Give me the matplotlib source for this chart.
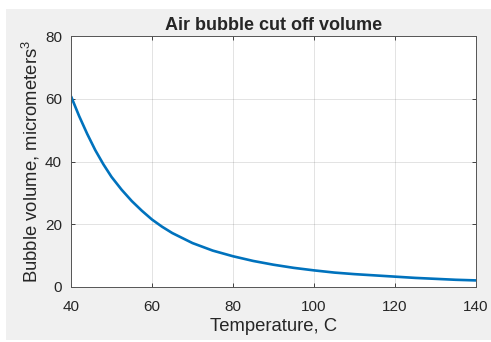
import matplotlib
matplotlib.use("Agg")
import matplotlib.pyplot as plt
from matplotlib.patches import Rectangle

# values
temperature = [40, 42, 44, 46, 48, 50, 52.5, 55, 57.5, 60, 62.5, 65, 70, 75, 80, 85, 90,
               95, 100, 105, 110, 115, 120, 125, 130, 135, 140]
volume = [60.8, 54.5, 48.8, 43.6, 39.1, 35.1, 31.0, 27.4, 24.3, 21.5, 19.2, 17.2, 14.0,
          11.6, 9.8, 8.3, 7.1, 6.1, 5.3, 4.6, 4.1, 3.7, 3.3, 2.9, 2.6, 2.3, 2.1]

x_ticks = [40, 60, 80, 100, 120, 140]
y_ticks = [0, 20, 40, 60, 80]

plt.rcParams.update({
    "font.family": ["Liberation Sans", "DejaVu Sans"],
    "mathtext.fontset": "custom",
    "mathtext.rm": "Liberation Sans",
    "mathtext.it": "Liberation Sans",
    "text.color": "#262626",
    "axes.labelcolor": "#262626",
    "xtick.color": "#262626",
    "ytick.color": "#262626",
})

fig = plt.figure(figsize=(4.91, 3.42), dpi=100, facecolor="white")
# grey figure panel (MATLAB window background)
fig.patches.append(Rectangle((6 / 491, 2 / 342), 1, 1 - 11 / 342, transform=fig.transFigure,
                             facecolor="#f0f0f0", edgecolor="none", zorder=-10))

ax = fig.add_axes([71 / 491, 1 - 287 / 342, 405 / 491, 251 / 342])
ax.plot(temperature, volume, color="#0072BD", linewidth=1.9, solid_capstyle="butt")

ax.set_xlim(40, 140)
ax.set_ylim(0, 80)
ax.set_xticks(x_ticks)
ax.set_yticks(y_ticks)
ax.tick_params(direction="in", length=3, width=0.6, labelsize=11,
               top=True, right=True)
ax.tick_params(axis="x", pad=9.5)
ax.tick_params(axis="y", pad=6.5)
ax.grid(True, color="#262626", alpha=0.15, linewidth=0.6)
for s in ax.spines.values():
    s.set_color("#555555")
    s.set_linewidth(0.7)

ax.set_title("Air bubble cut off volume", fontsize=13, fontweight="bold", pad=4)
ax.set_xlabel("Temperature, C", fontsize=13.3, labelpad=3)
ax.set_ylabel("Bubble volume, micrometers$^3$", fontsize=13.3, labelpad=2)

fig.savefig("out.png", dpi=100)
